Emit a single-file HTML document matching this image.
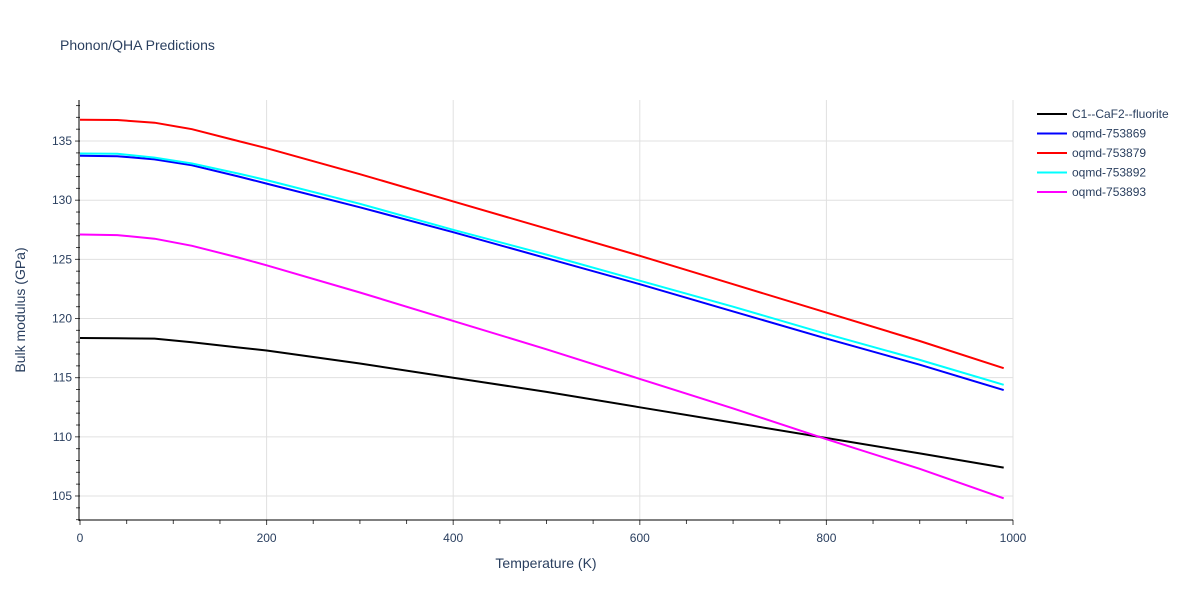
<!DOCTYPE html>
<html><head><meta charset="utf-8"><style>
body{margin:0;background:#fff;font-family:"Liberation Sans",sans-serif}
svg text{font-family:"Liberation Sans",sans-serif;fill:#2a3f5f}
</style></head><body>
<svg id="chart" width="1200" height="600" xmlns="http://www.w3.org/2000/svg">
<text x="60" y="50" font-size="14">Phonon/QHA Predictions</text>
<g id="grid"></g><g id="axes"></g><g id="lines"></g><g id="legend"></g>
<text x="546" y="568" font-size="14" text-anchor="middle">Temperature (K)</text>
<text transform="translate(25,310) rotate(-90)" font-size="14" text-anchor="middle">Bulk modulus (GPa)</text>
</svg>
<script>
const temps = [0,40,80,120,170,200,300,400,500,600,700,800,900,990];
const seriesNames = ["C1--CaF2--fluorite","oqmd-753869","oqmd-753879","oqmd-753892","oqmd-753893"];
const seriesColors = ["#000000","#0000ff","#ff0000","#00ffff","#ff00ff"];
const blackVals = [118.35,118.33,118.3,118.0,117.55,117.3,116.2,115.0,113.8,112.5,111.2,109.9,108.6,107.4];
const blueVals = [133.75,133.72,133.45,132.95,132.0,131.4,129.4,127.3,125.1,122.9,120.6,118.3,116.1,113.95];
const redVals = [136.8,136.78,136.55,136.0,135.0,134.4,132.2,129.9,127.6,125.3,122.9,120.5,118.1,115.8];
const cyanVals = [133.95,133.92,133.6,133.1,132.25,131.7,129.7,127.5,125.4,123.2,121.0,118.7,116.5,114.4];
const magentaVals = [127.1,127.05,126.75,126.15,125.15,124.5,122.2,119.8,117.4,114.9,112.4,109.8,107.3,104.8];
const xTicks = [0,200,400,600,800,1000];
const yTicks = [105,110,115,120,125,130,135];
const NS="http://www.w3.org/2000/svg";
const X0=80,X1=1013,Y0=520,Y1=100,xmin=0,xmax=1000,ymin=102.97,ymax=138.47;
const xs=v=>X0+(v-xmin)/(xmax-xmin)*(X1-X0);
const ys=v=>Y0-(v-ymin)/(ymax-ymin)*(Y0-Y1);
function mk(tag,attrs,parent){const e=document.createElementNS(NS,tag);for(const k in attrs)e.setAttribute(k,attrs[k]);parent.appendChild(e);return e;}
const grid=document.getElementById('grid'),axes=document.getElementById('axes'),lines=document.getElementById('lines'),legend=document.getElementById('legend');
xTicks.forEach(t=>{
 if(t>0){const g=mk('line',{x1:xs(t),x2:xs(t),y1:Y1,y2:Y0,stroke:'#e0e0e0'},grid);
 
 }
 const tx=mk('text',{x:xs(t),y:Y0+22,'font-size':12,'text-anchor':'middle'},axes);tx.textContent=t;
 
 
});
for(let t=0;t<=1000;t+=50){mk('line',{x1:xs(t),x2:xs(t),y1:Y0,y2:Y0+(t%200==0?5:4),stroke:'#444'},axes);}
yTicks.forEach(t=>{
 const g=mk('line',{x1:X0,x2:X1,y1:ys(t),y2:ys(t),stroke:'#e0e0e0'},grid);
 
 
 const tx=mk('text',{x:X0-8,y:ys(t)+4,'font-size':12,'text-anchor':'end'},axes);tx.textContent=t;
 
 
});
for(let t=103;t<=138;t++){mk('line',{x1:X0-(t%5==0?5:4),x2:X0,y1:ys(t),y2:ys(t),stroke:'#444'},axes);}
mk('line',{x1:X0-1,x2:X0-1,y1:Y1,y2:Y0+1,stroke:'#000'},axes);
mk('line',{x1:X0-1,x2:X1,y1:Y0,y2:Y0,stroke:'#000'},axes);
const allVals=[blackVals,blueVals,redVals,cyanVals,magentaVals];
const order=[0,1,2,3,4];
order.forEach(i=>{
 const d=temps.map((t,j)=>(j?'L':'M')+xs(t).toFixed(1)+','+ys(allVals[i][j]).toFixed(1)).join('');
 const p=mk('path',{d:d,fill:'none',stroke:seriesColors[i],'stroke-width':2},lines);
 
 
 const ly=114+i*19.5;
 const g=mk('g',{},legend);
 
 
 mk('line',{x1:1037,x2:1067,y1:ly,y2:ly,stroke:seriesColors[i],'stroke-width':2},g);
 const tx=mk('text',{x:1072,y:ly+4,'font-size':12},g);tx.textContent=seriesNames[i];
});
</script>
</body></html>
